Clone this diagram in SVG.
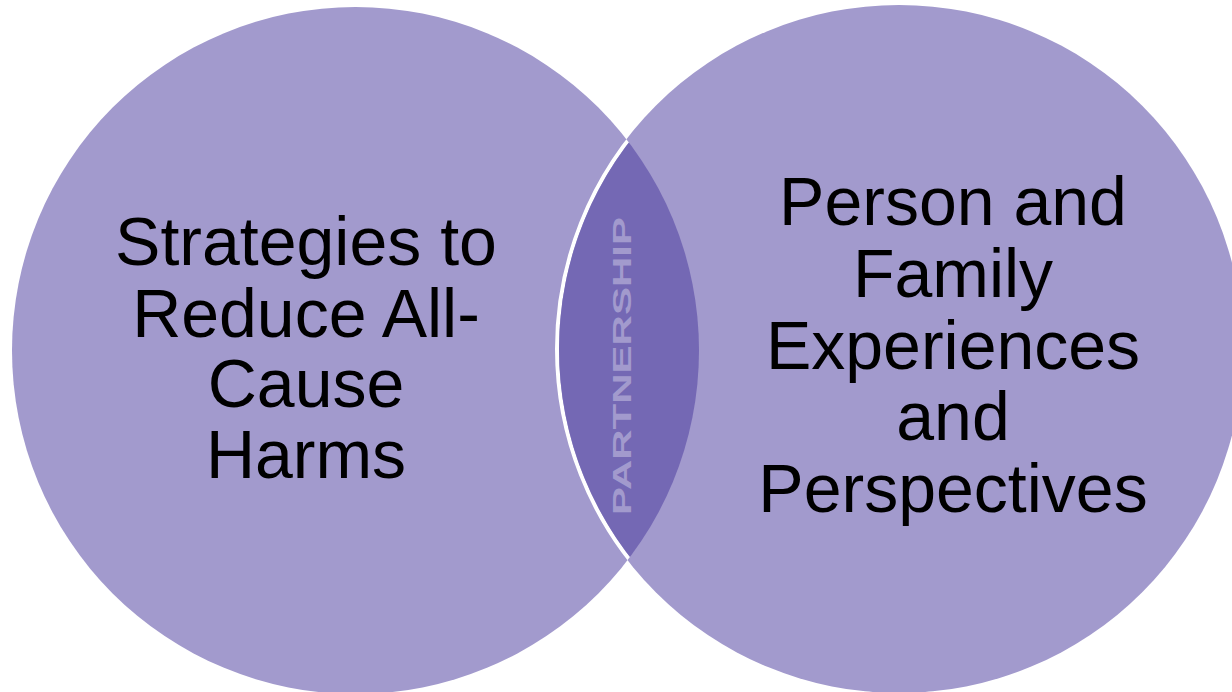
<svg xmlns="http://www.w3.org/2000/svg" width="1232" height="692" viewBox="0 0 1232 692">
  <style>
    .light { fill: #A29ACD; }
    .dark { fill: #7468B4; }
    .label { font-family: "Liberation Sans", Arial, sans-serif; font-size: 68px; fill: #000000; text-anchor: middle; }
    .lens-label { font-family: "Liberation Sans", Arial, sans-serif; font-size: 26px; font-weight: bold; fill: #A29ACD; }
  </style>
  <defs>
    <clipPath id="leftClip">
      <circle cx="355.5" cy="350.5" r="343.5"/>
    </clipPath>
    <clipPath id="rightInnerClip">
      <circle cx="899" cy="349" r="340"/>
    </clipPath>
  </defs>
  <rect x="0" y="0" width="1232" height="692" fill="#FFFFFF"/>
  <g id="node-left">
    <circle class="light" cx="355.5" cy="350.5" r="343.5"/>
  </g>
  <g id="node-right">
    <circle class="light" cx="899" cy="349" r="344"/>
  </g>
  <g id="node-partnership">
    <circle cx="899" cy="349" r="342" fill="none" stroke="#FFFFFF" stroke-width="4" clip-path="url(#leftClip)"/>
    <g clip-path="url(#rightInnerClip)">
      <circle class="dark" cx="355.5" cy="350.5" r="343.5"/>
    </g>
    <text class="lens-label" transform="translate(631,515) rotate(-90)" x="0" y="0" textLength="298" lengthAdjust="spacingAndGlyphs">PARTNERSHIP</text>
  </g>
  <g id="labels">
    <text class="label" x="306" y="265">Strategies to</text>
    <text class="label" x="306" y="337">Reduce All-</text>
    <text class="label" x="306" y="407">Cause</text>
    <text class="label" x="306" y="478">Harms</text>
    <text class="label" x="953" y="225">Person and</text>
    <text class="label" x="953" y="297">Family</text>
    <text class="label" x="953" y="369">Experiences</text>
    <text class="label" x="953" y="440">and</text>
    <text class="label" x="953" y="512">Perspectives</text>
  </g>
  <g id="connectors"/>
</svg>
